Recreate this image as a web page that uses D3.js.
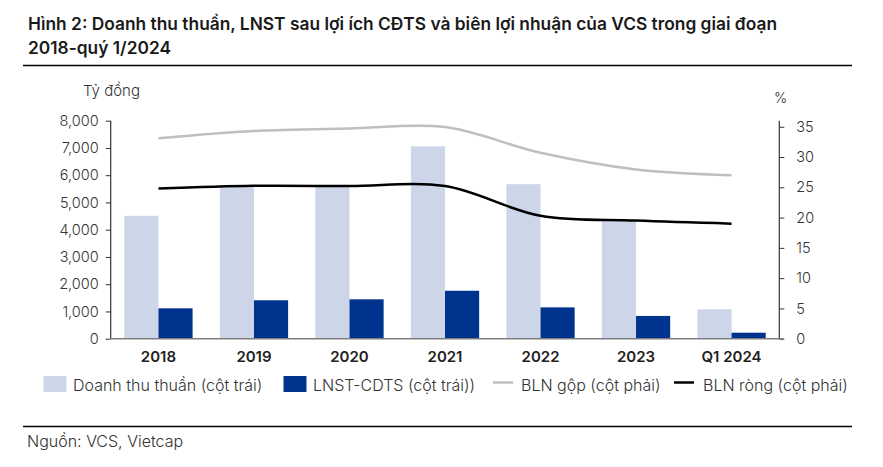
<!DOCTYPE html>
<html><head><meta charset="utf-8">
<script src="https://cdn.jsdelivr.net/npm/d3@7"></script>
<style>
html,body{margin:0;padding:0;background:#fff;}
svg{display:block;font-family:Inter,"Noto Sans",sans-serif;}
</style></head>
<body>
<svg id="c" width="883" height="467"></svg>
<script>
const categories = ["2018","2019","2020","2021","2022","2023","Q1 2024"];
const revenue = [4510, 5560, 5580, 7060, 5670, 4360, 1080];
const netProfit = [1115, 1410, 1445, 1760, 1150, 835, 220];
const grossMargin = [33.1, 34.3, 34.7, 34.95, 30.7, 27.95, 27.0];
const netMargin = [24.8, 25.25, 25.2, 25.2, 20.3, 19.5, 19.0];
const leftTicks = [0,1000,2000,3000,4000,5000,6000,7000,8000];
const rightTicks = [0,5,10,15,20,25,30,35];

const svg = d3.select("#c");
const L = 110.7, R = 779.3, T = 120.7, B = 338.7;

const x = d3.scaleBand().domain(categories).range([L, R]).paddingInner(0.285).paddingOuter(0.1425);
const yL = d3.scaleLinear().domain([0, 8000]).range([B, T]);
const yR = d3.scaleLinear().domain([0, 36]).range([B, T]);
const bw = x.bandwidth()/2;

// title
const title = svg.append("g").attr("font-weight", 600).attr("font-size", 17.35).attr("fill", "#1a1a1a");
title.append("text").attr("x", 28).attr("y", 30).text("Hình 2: Doanh thu thuần, LNST sau lợi ích CĐTS và biên lợi nhuận của VCS trong giai đoạn");
title.append("text").attr("x", 28).attr("y", 54).text("2018-quý 1/2024");
svg.append("line").attr("x1", 23).attr("x2", 852).attr("y1", 65.5).attr("y2", 65.5).attr("stroke", "#000").attr("stroke-width", 1.3);

// unit labels
svg.append("text").attr("x", 83).attr("y", 96).attr("font-size", 15).attr("font-weight", 300).attr("fill", "#333").text("Tỷ đồng");
svg.append("text").attr("x", 774).attr("y", 103).attr("font-size", 14).attr("font-weight", 300).attr("fill", "#333").text("%");

// bars
svg.append("g").selectAll("rect").data(categories).join("rect")
  .attr("x", d => x(d)).attr("width", bw)
  .attr("y", (d,i) => yL(revenue[i])).attr("height", (d,i) => B - yL(revenue[i]))
  .attr("fill", "#CDD5E8");
svg.append("g").selectAll("rect").data(categories).join("rect")
  .attr("x", d => x(d) + bw).attr("width", bw)
  .attr("y", (d,i) => yL(netProfit[i])).attr("height", (d,i) => B - yL(netProfit[i]))
  .attr("fill", "#00338D");

// lines
const cx = d => x(d) + x.bandwidth()/2;
const line = d3.line().curve(d3.curveCatmullRom.alpha(0.5));
svg.append("path").attr("d", line(categories.map((c,i) => [cx(c), yR(grossMargin[i])])))
  .attr("fill", "none").attr("stroke", "#BFBFBF").attr("stroke-width", 2.5);
svg.append("path").attr("d", line(categories.map((c,i) => [cx(c), yR(netMargin[i])])))
  .attr("fill", "none").attr("stroke", "#000").attr("stroke-width", 2.5);

// axes
const axL = svg.append("g").attr("transform", `translate(${L},0)`)
  .call(d3.axisLeft(yL).tickValues(leftTicks).tickSize(5).tickPadding(7).tickFormat(d3.format(",")));
const axR = svg.append("g").attr("transform", `translate(${R},0)`)
  .call(d3.axisRight(yR).tickValues(rightTicks).tickSize(5).tickPadding(12).tickFormat(d3.format("d")));
[axL, axR].forEach(a => {
  a.select(".domain").attr("stroke", "#333").attr("stroke-width", 1.2).attr("d", `M0,${T}V${B}`);
  a.selectAll(".tick line").attr("stroke", "#333");
  a.selectAll(".tick text").attr("font-family", "Inter").attr("font-size", 14.5).attr("font-weight", 300).attr("fill", "#333");
});
const axB = svg.append("g").attr("transform", `translate(0,${B})`)
  .call(d3.axisBottom(x).tickSize(0).tickPadding(13));
axB.select(".domain").attr("stroke", "#7f7f7f").attr("stroke-width", 1.6).attr("d", `M${L},0H${R+4}`);
axB.selectAll(".tick text").attr("font-family", "Inter").attr("font-size", 15).attr("font-weight", 600).attr("fill", "#222");

// legend
const lg = svg.append("g").attr("font-size", 16).attr("font-weight", 300).attr("fill", "#333");
lg.append("rect").attr("x", 43.5).attr("y", 376).attr("width", 23).attr("height", 16).attr("fill", "#CDD5E8");
lg.append("text").attr("x", 73).attr("y", 391).text("Doanh thu thuần (cột trái)");
lg.append("rect").attr("x", 283.5).attr("y", 376).attr("width", 23).attr("height", 16).attr("fill", "#00338D");
lg.append("text").attr("x", 313).attr("y", 391).text("LNST-CDTS (cột trái))");
lg.append("line").attr("x1", 493).attr("x2", 513).attr("y1", 382.5).attr("y2", 382.5).attr("stroke", "#BFBFBF").attr("stroke-width", 2.5);
lg.append("text").attr("x", 521).attr("y", 391).text("BLN gộp (cột phải)");
lg.append("line").attr("x1", 674).attr("x2", 694).attr("y1", 382.5).attr("y2", 382.5).attr("stroke", "#000").attr("stroke-width", 2.5);
lg.append("text").attr("x", 703).attr("y", 391).text("BLN ròng (cột phải)");

// source
svg.append("line").attr("x1", 23).attr("x2", 852).attr("y1", 426.5).attr("y2", 426.5).attr("stroke", "#000").attr("stroke-width", 1.3);
svg.append("text").attr("x", 27).attr("y", 446.5).attr("font-size", 16).attr("font-weight", 300).attr("fill", "#333").text("Nguồn: VCS, Vietcap");
</script>
</body></html>
